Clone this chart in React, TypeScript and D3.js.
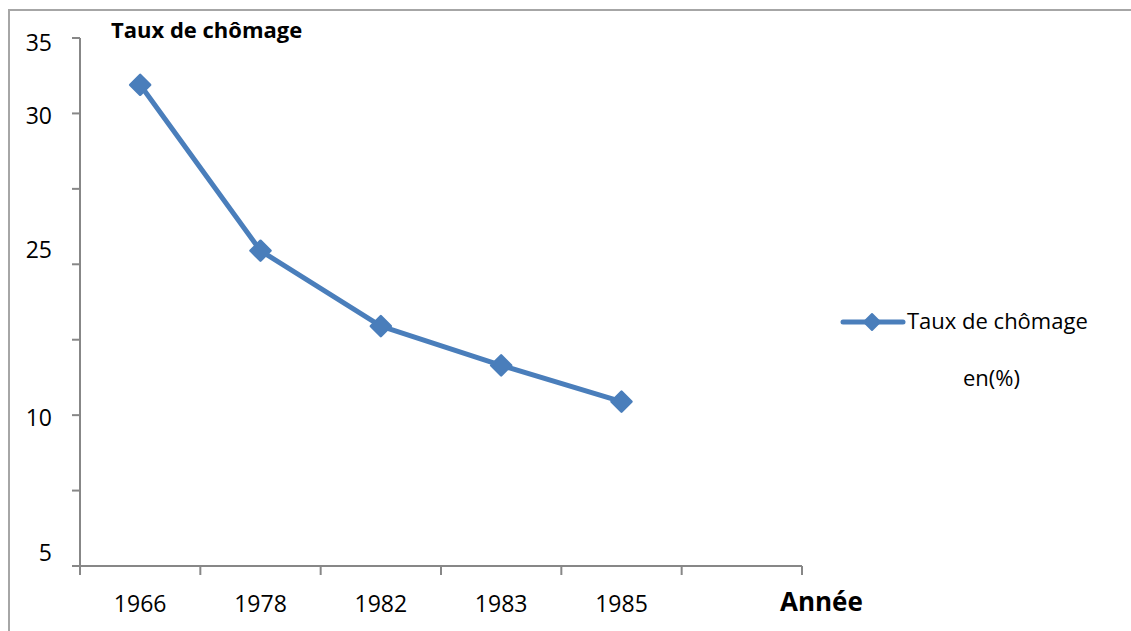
import React from 'react';
import * as d3 from 'd3';

const years: string[] = ['1966', '1978', '1982', '1983', '1985'];
const rates: number[] = [31.9, 20.9, 15.9, 13.3, 10.9];
const yTickValues: number[] = [0, 5, 10, 15, 20, 25, 30, 35];
const yTickLabels: string[] = ['5', '', '10', '', '25', '', '30', '35'];
const yLabelNudge: number[] = [-13.5, 0, 3, 0, -14, 0, 3, 4.5];
const xSlots: string[] = [...years, ''];

const W = 1131;
const H = 631;
const BLUE = '#4A7EBB';
const AXIS = '#878787';
const FONT = "'Open Sans', 'Noto Sans', sans-serif";

export default function App() {
  const x = d3.scaleBand<string>().domain(xSlots).range([80, 802]).padding(0);
  const y = d3.scaleLinear().domain([0, 35]).range([566, 38]);
  const cx = (d: string) => (x(d) as number) + x.bandwidth() / 2;
  const pts = years.map((yr, i) => [cx(yr), y(rates[i])] as [number, number]);
  const line = d3.line<[number, number]>().x((d) => d[0]).y((d) => d[1]);
  const diamond = (r: number) => `M0,${-r}L${r},0L0,${r}L${-r},0Z`;
  const xBounds = [...xSlots.map((s) => x(s) as number), 802];

  return (
    <svg width={W} height={H} style={{ position: 'absolute', left: 0, top: 0, background: '#fff' }}>
      <rect x={0} y={0} width={W} height={H} fill="#fff" />
      {/* chart frame */}
      <path d={`M9,${H}V10H${W}`} fill="none" stroke="#a6a6a6" strokeWidth={2} />

      {/* y axis */}
      <line x1={80} x2={80} y1={y(35)} y2={y(0)} stroke={AXIS} strokeWidth={2} />
      {yTickValues.map((v, i) => (
        <g key={'yt' + v}>
          <line x1={72} x2={80} y1={y(v)} y2={y(v)} stroke={AXIS} strokeWidth={2} />
          {yTickLabels[i] && (
            <text
              x={52}
              y={y(v) + yLabelNudge[i]}
              dy="0.35em"
              textAnchor="end"
              fontFamily={FONT}
              fontSize={23}
              fill="#000"
            >
              {yTickLabels[i]}
            </text>
          )}
        </g>
      ))}

      {/* x axis */}
      <line x1={72} x2={802} y1={y(0)} y2={y(0)} stroke={AXIS} strokeWidth={2} />
      {xBounds.map((bx, i) => (
        <line key={'xt' + i} x1={bx} x2={bx} y1={y(0)} y2={y(0) + 9} stroke={AXIS} strokeWidth={2} />
      ))}
      {years.map((yr) => (
        <text key={'xl' + yr} x={cx(yr)} y={612} textAnchor="middle" fontFamily={FONT} fontSize={23} fill="#000">
          {yr}
        </text>
      ))}
      <text x={780} y={611} fontFamily={FONT} fontSize={26} fontWeight="bold" fill="#000">
        Année
      </text>

      {/* title */}
      <text x={111} y={38} fontFamily={FONT} fontSize={22} fontWeight="bold" fill="#000">
        Taux de chômage
      </text>

      {/* series */}
      <path d={line(pts) as string} fill="none" stroke={BLUE} strokeWidth={5} strokeLinejoin="round" />
      {pts.map((p, i) => (
        <path
          key={'m' + i}
          d={diamond(10)}
          transform={`translate(${p[0]},${p[1]})`}
          fill={BLUE}
          stroke={BLUE}
          strokeWidth={2.5}
          strokeLinejoin="round"
        />
      ))}

      {/* legend */}
      <line x1={843} x2={903} y1={322} y2={322} stroke={BLUE} strokeWidth={5} strokeLinecap="round" />
      <path d={diamond(8)} transform="translate(872,322)" fill={BLUE} stroke={BLUE} strokeWidth={2} strokeLinejoin="round" />
      <text x={907} y={329} fontFamily={FONT} fontSize={22} fill="#000">
        Taux de chômage
      </text>
      <text x={963} y={386} fontFamily={FONT} fontSize={22} fill="#000">
        en(%)
      </text>
    </svg>
  );
}
